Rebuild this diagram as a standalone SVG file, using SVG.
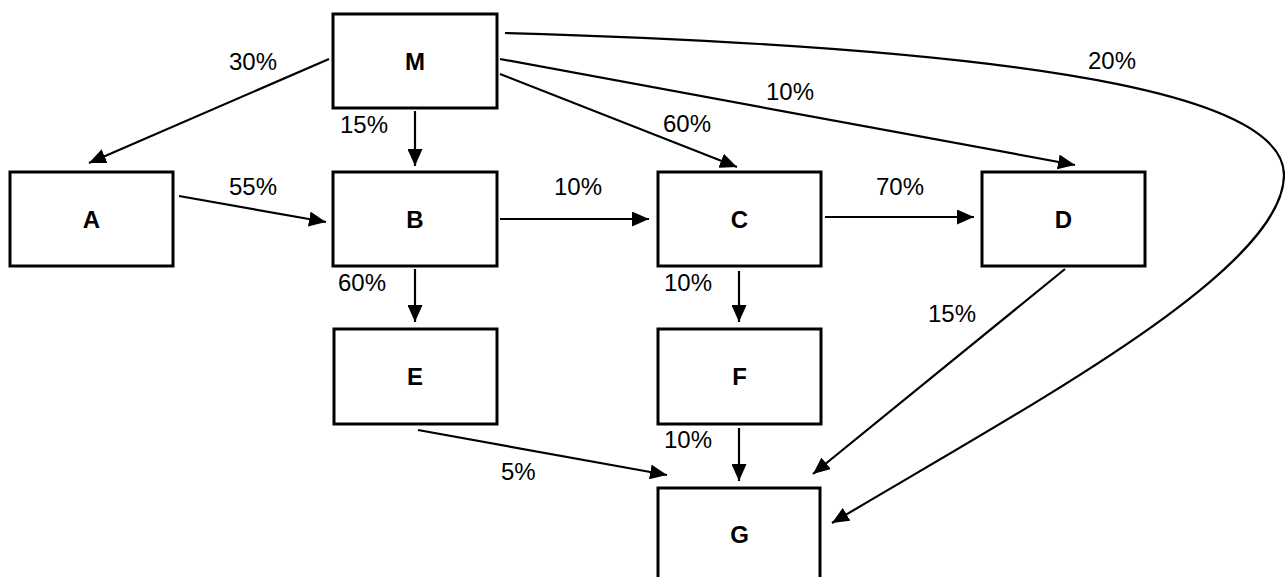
<svg xmlns="http://www.w3.org/2000/svg" width="1285" height="577" viewBox="0 0 1285 577">
<style>
.box{fill:#fff;stroke:#000;stroke-width:3}
.lbl{font-family:"Liberation Sans",Arial,sans-serif;font-size:24px;font-weight:bold;text-anchor:middle;fill:#000}
.pct{font-family:"Liberation Sans",Arial,sans-serif;font-size:24px;fill:#000}
.edge{fill:none;stroke:#000;stroke-width:2.2;marker-end:url(#arr)}
</style>
<defs>
<marker id="arr" markerUnits="userSpaceOnUse" markerWidth="17" markerHeight="15" refX="17" refY="7.5" orient="auto">
<path d="M0,0 L17,7.5 L0,15 z" fill="#000"/>
</marker>
</defs>
<rect width="1285" height="577" fill="#fff"/>
<g id="connectors">
<line class="edge" x1="329" y1="59" x2="89" y2="163"/>
<line class="edge" x1="415" y1="111" x2="415" y2="166"/>
<line class="edge" x1="179" y1="196" x2="326" y2="222"/>
<line class="edge" x1="500" y1="219" x2="649" y2="219"/>
<line class="edge" x1="825" y1="217" x2="974" y2="217"/>
<line class="edge" x1="500" y1="74" x2="737" y2="167"/>
<line class="edge" x1="500" y1="59" x2="1075" y2="165"/>
<path class="edge" d="M505,33 C1100,50 1284,105 1284,175 C1284,270 1030,405 832,523"/>
<line class="edge" x1="1065" y1="269" x2="813" y2="474"/>
<line class="edge" x1="415" y1="269" x2="415" y2="322"/>
<line class="edge" x1="739" y1="271" x2="739" y2="322"/>
<line class="edge" x1="739" y1="428" x2="739" y2="481"/>
<line class="edge" x1="418" y1="430" x2="667" y2="475"/>
<text class="pct" x="229" y="70">30%</text>
<text class="pct" x="340" y="133">15%</text>
<text class="pct" x="229" y="195">55%</text>
<text class="pct" x="554" y="195">10%</text>
<text class="pct" x="876" y="195">70%</text>
<text class="pct" x="663" y="132">60%</text>
<text class="pct" x="766" y="100">10%</text>
<text class="pct" x="1088" y="69">20%</text>
<text class="pct" x="338" y="291">60%</text>
<text class="pct" x="664" y="291">10%</text>
<text class="pct" x="928" y="322">15%</text>
<text class="pct" x="664" y="448">10%</text>
<text class="pct" x="501" y="480">5%</text>
</g>
<g id="node-M"><rect class="box" x="333" y="14" width="164" height="94"/><text class="lbl" x="415" y="70">M</text></g>
<g id="node-A"><rect class="box" x="10" y="172" width="163" height="94"/><text class="lbl" x="91.5" y="228">A</text></g>
<g id="node-B"><rect class="box" x="333" y="172" width="164" height="94"/><text class="lbl" x="415" y="228">B</text></g>
<g id="node-C"><rect class="box" x="658" y="172" width="163" height="94"/><text class="lbl" x="739.5" y="228">C</text></g>
<g id="node-D"><rect class="box" x="982" y="172" width="163" height="94"/><text class="lbl" x="1063.5" y="228">D</text></g>
<g id="node-E"><rect class="box" x="334" y="329" width="163" height="95"/><text class="lbl" x="415" y="385">E</text></g>
<g id="node-F"><rect class="box" x="658" y="329" width="163" height="95"/><text class="lbl" x="739.5" y="385">F</text></g>
<g id="node-G"><rect class="box" x="658" y="488" width="162" height="100"/><text class="lbl" x="739.5" y="543">G</text></g>
</svg>
